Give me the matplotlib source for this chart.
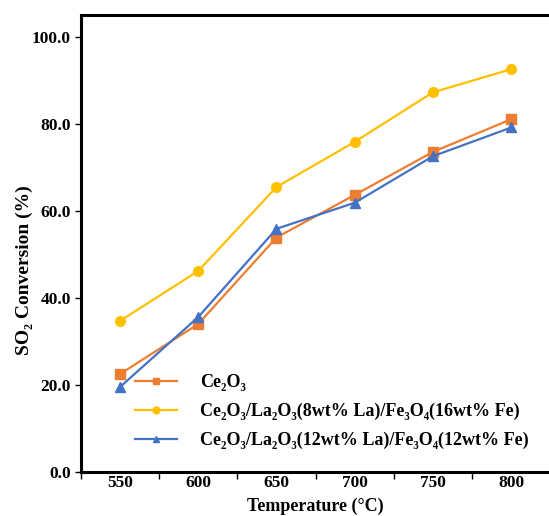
import numpy as np
import matplotlib
matplotlib.use("Agg")
import matplotlib.pyplot as plt
from matplotlib.ticker import FixedLocator, NullFormatter

plt.rcParams['font.family'] = ['Liberation Serif', 'DejaVu Serif']
plt.rcParams['font.weight'] = 'bold'

temps = [550, 600, 650, 700, 750, 800]
ce2o3 = [22.5, 34.0, 53.9, 63.7, 73.6, 81.1]
la8_fe16 = [34.7, 46.2, 65.5, 75.9, 87.3, 92.6]
la12_fe12 = [19.5, 35.6, 55.9, 61.9, 72.6, 79.2]

labels = [
    "Ce₂O₃",
    "Ce₂O₃/La₂O₃(8wt% La)/Fe₃O₄(16wt% Fe)",
    "Ce₂O₃/La₂O₃(12wt% La)/Fe₃O₄(12wt% Fe)",
]

fig = plt.figure(figsize=(5.49, 5.16), dpi=100)
ax = fig.add_axes([0.147, 0.0853, 0.8558, 0.8857])

x = np.arange(len(temps))
ax.plot(x, ce2o3, '-s', color='#ED7D31', lw=1.6, ms=6.5, label=labels[0])
ax.plot(x, la8_fe16, '-o', color='#FFC000', lw=1.6, ms=7, label=labels[1])
ax.plot(x, la12_fe12, '-^', color='#4472C4', lw=1.6, ms=7.5, label=labels[2])

ax.set_xlim(-0.5, len(temps) - 0.5)
ax.set_ylim(0, 105.06)
ax.set_yticks(np.arange(0, 101, 20))
ax.set_yticklabels([f"{v:.1f}" for v in np.arange(0, 101, 20)])

# category axis: ticks between categories, labels centred
ax.xaxis.set_major_locator(FixedLocator(np.arange(-0.5, len(temps), 1.0)))
ax.xaxis.set_major_formatter(NullFormatter())
ax.xaxis.set_minor_locator(FixedLocator(x))
ax.set_xticklabels([str(t) for t in temps], minor=True)
ax.tick_params(axis='x', which='minor', length=0, pad=2, labelsize=12.5)
ax.tick_params(axis='x', which='major', length=5, width=1, direction='out')
ax.tick_params(axis='y', length=4, width=1, direction='out', labelsize=12.5, pad=3)

for s in ax.spines.values():
    s.set_linewidth(2.2)
ax.spines['right'].set_visible(False)

ax.set_xlabel("Temperature (°C)", fontsize=13, fontweight='bold', labelpad=5)
ax.set_ylabel("SO₂ Conversion (%)", fontsize=14, fontweight='bold')
ax.yaxis.set_label_coords(-0.1015, 0.442)

leg = ax.legend(loc='lower left', bbox_to_anchor=(0.0815, 0.014), frameon=False,
                handlelength=2.3, handletextpad=1.3, labelspacing=0.65,
                prop={'weight': 'bold', 'size': 13})
for h in leg.legend_handles:
    h.set_markersize(5)

fig.savefig("out.png", dpi=100)
